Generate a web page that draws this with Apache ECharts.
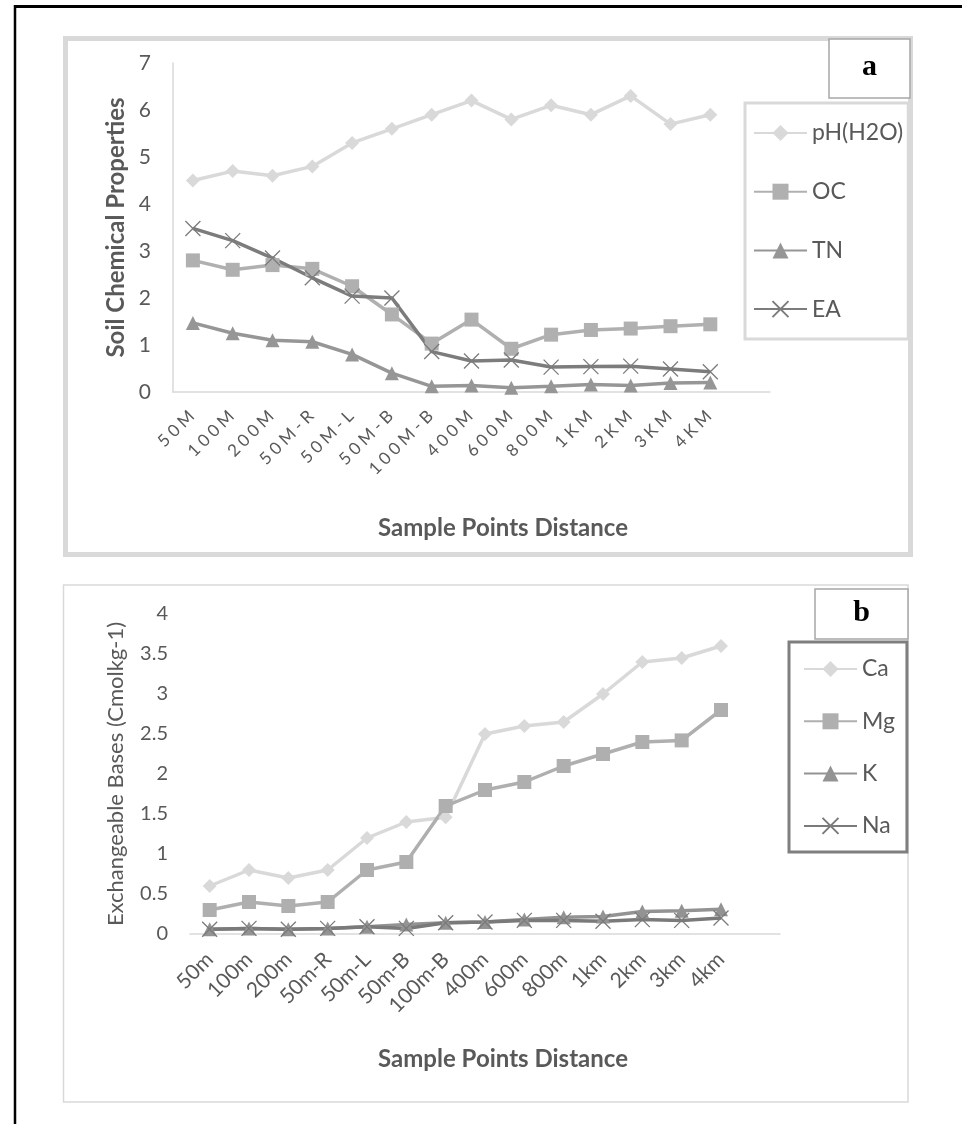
<!DOCTYPE html>
<html>
<head>
<meta charset="utf-8">
<script src="https://cdn.jsdelivr.net/npm/echarts@6/dist/echarts.min.js"></script>
<style>
html, body { margin: 0; padding: 0; background: #fff; }
#main { width: 962px; height: 1124px; }
</style>
</head>
<body>
<div id="main"></div>
<script>
// categories
var catsA = ['50M', '100M', '200M', '50M-R', '50M-L', '50M-B', '100M-B', '400M', '600M', '800M', '1KM', '2KM', '3KM', '4KM'];
var catsB = ['50m', '100m', '200m', '50m-R', '50m-L', '50m-B', '100m-B', '400m', '600m', '800m', '1km', '2km', '3km', '4km'];

// chart a: soil chemical properties
var ph = [4.5, 4.7, 4.6, 4.8, 5.3, 5.6, 5.9, 6.2, 5.8, 6.1, 5.9, 6.3, 5.7, 5.9];
var oc = [2.8, 2.6, 2.7, 2.62, 2.25, 1.65, 1.03, 1.54, 0.92, 1.22, 1.32, 1.35, 1.4, 1.44];
var tn = [1.47, 1.25, 1.1, 1.07, 0.8, 0.4, 0.12, 0.14, 0.09, 0.12, 0.16, 0.14, 0.19, 0.2];
var ea = [3.48, 3.22, 2.85, 2.43, 2.04, 2.0, 0.86, 0.66, 0.68, 0.53, 0.54, 0.55, 0.49, 0.43];

// chart b: exchangeable bases
var ca = [0.6, 0.8, 0.7, 0.8, 1.2, 1.4, 1.46, 2.5, 2.6, 2.65, 3.0, 3.4, 3.45, 3.6];
var mg = [0.3, 0.4, 0.35, 0.4, 0.8, 0.9, 1.6, 1.8, 1.9, 2.1, 2.25, 2.4, 2.42, 2.8];
var kk = [0.06, 0.07, 0.06, 0.07, 0.09, 0.12, 0.14, 0.15, 0.18, 0.21, 0.22, 0.28, 0.29, 0.31];
var na = [0.06, 0.07, 0.06, 0.07, 0.09, 0.07, 0.14, 0.15, 0.17, 0.17, 0.16, 0.18, 0.17, 0.2];

// y axis ticks [min, max, step]
var yTicksA = [0, 7, 1];
var yTicksB = [0, 4, 0.5];

var chart = echarts.init(document.getElementById('main'));

var txt = '#595959';
var crossPath = 'path://M0,0L12,12M12,0L0,12';

function line(name, data, color, symbol, idx) {
    var s = {
        name: name,
        type: 'line',
        xAxisIndex: idx,
        yAxisIndex: idx,
        data: data,
        symbol: symbol,
        symbolSize: symbol === crossPath ? 15 : 14,
        showAllSymbol: true,
        lineStyle: { color: color, width: 3.5 },
        itemStyle: { color: color },
        emphasis: { disabled: true }
    };
    if (symbol === crossPath) {
        s.itemStyle = { color: color, borderColor: color, borderWidth: 1.3 };
    }
    return s;
}

// label a uses wide letter spacing
function spaced(v) {
    return String(v).split('').map(function (c) { return '{s|' + c + '}'; }).join('');
}

function xAxis(idx, cats, label) {
    return {
        type: 'category',
        gridIndex: idx,
        data: cats,
        max: cats.length,
        boundaryGap: true,
        axisLine: { lineStyle: { color: '#d9d9d9', width: 1.5 } },
        axisTick: { show: false },
        axisLabel: label
    };
}

function yAxis(idx, t, name, bold, size, gap, showLine) {
    return {
        type: 'value',
        gridIndex: idx,
        min: t[0], max: t[1], interval: t[2],
        axisLine: { show: showLine, lineStyle: { color: '#d9d9d9', width: 1.5 } },
        axisTick: { show: false },
        splitLine: { show: false },
        axisLabel: { fontFamily: 'Lato', fontSize: idx === 0 ? 21 : 20, color: txt, margin: 22 },
        name: name,
        nameLocation: 'middle',
        nameGap: gap,
        nameTextStyle: { fontFamily: 'Lato', fontSize: size, fontWeight: bold ? 'bold' : 'normal', color: txt }
    };
}

var legendText = { fontFamily: 'Lato', fontSize: 23, color: txt, lineHeight: 23 };

var option = {
    animation: false,
    backgroundColor: '#fff',
    grid: [
        { left: 173, top: 63, width: 597, height: 329 },
        { left: 190, top: 614, width: 590, height: 320 }
    ],
    xAxis: [
        xAxis(0, catsA, {
            rotate: 45, margin: 20, interval: function (i) { return i < catsA.length; },
            formatter: spaced,
            rich: { s: { fontFamily: 'Lato', fontSize: 17, color: txt, padding: [0, 2, 0, 2] } }
        }),
        xAxis(1, catsB, {
            rotate: 45, margin: 22, interval: function (i) { return i < catsB.length; },
            fontFamily: 'Lato', fontSize: 21, color: txt
        })
    ],
    yAxis: [
        yAxis(0, yTicksA, 'Soil Chemical Properties', true, 24, 44, true),
        yAxis(1, yTicksB, 'Exchangeable Bases (Cmolkg-1)', false, 22, 63, false)
    ],
    legend: [
        {
            orient: 'vertical', left: 745, top: 103,
            padding: [18.5, 5, 18.5, 8], itemGap: 35.7,
            itemWidth: 53, itemHeight: 20,
            borderColor: '#d9d9d9', borderWidth: 3, backgroundColor: '#fff',
            selectedMode: false,
            textStyle: legendText,
            data: ['pH(H2O)', 'OC', 'TN', 'EA']
        },
        {
            orient: 'vertical', left: 789, top: 642,
            padding: [15.5, 12, 14.5, 14], itemGap: 29.3,
            itemWidth: 53, itemHeight: 20,
            borderColor: '#7f7f7f', borderWidth: 3, backgroundColor: '#fff',
            selectedMode: false,
            textStyle: legendText,
            data: ['Ca', 'Mg', 'K', 'Na']
        }
    ],
    series: [
        line('pH(H2O)', ph, '#d9d9d9', 'diamond', 0),
        line('OC', oc, '#b0b0b0', 'rect', 0),
        line('TN', tn, '#969696', 'triangle', 0),
        line('EA', ea, '#7c7c7c', crossPath, 0),
        line('Ca', ca, '#d9d9d9', 'diamond', 1),
        line('Mg', mg, '#afafaf', 'rect', 1),
        line('K', kk, '#939393', 'triangle', 1),
        line('Na', na, '#7a7a7a', crossPath, 1)
    ],
    graphic: [
        // outer black frame
        { type: 'line', shape: { x1: 15, y1: 6.5, x2: 962, y2: 6.5 }, style: { stroke: '#000', lineWidth: 3 } },
        { type: 'line', shape: { x1: 15, y1: 5, x2: 15, y2: 1124 }, style: { stroke: '#000', lineWidth: 2.5 } },
        // panel a
        { type: 'rect', z: -1, shape: { x: 65.5, y: 38.5, width: 845, height: 516 }, style: { fill: 'none', stroke: '#d9d9d9', lineWidth: 5 } },
        { type: 'rect', shape: { x: 829, y: 39, width: 81, height: 59 }, style: { fill: '#fff', stroke: '#a6a6a6', lineWidth: 1.5 } },
        { type: 'text', style: { text: 'a', x: 869.5, y: 67, align: 'center', verticalAlign: 'middle', font: 'bold 30px "Liberation Serif"', fill: '#000' } },
        { type: 'text', style: { text: 'Sample Points Distance', x: 503, y: 528, align: 'center', verticalAlign: 'middle', font: 'bold 24px Lato', fill: txt } },
        // panel b
        { type: 'rect', z: -1, shape: { x: 63.5, y: 585, width: 844.5, height: 517 }, style: { fill: 'none', stroke: '#d9d9d9', lineWidth: 1.5 } },
        { type: 'rect', shape: { x: 815, y: 589, width: 93, height: 50 }, style: { fill: '#fff', stroke: '#a6a6a6', lineWidth: 1.5 } },
        { type: 'text', style: { text: 'b', x: 861.5, y: 613, align: 'center', verticalAlign: 'middle', font: 'bold 30px "Liberation Serif"', fill: '#000' } },
        { type: 'text', style: { text: 'Sample Points Distance', x: 503, y: 1059, align: 'center', verticalAlign: 'middle', font: 'bold 24px Lato', fill: txt } }
    ]
};

chart.setOption(option);
</script>
</body>
</html>
